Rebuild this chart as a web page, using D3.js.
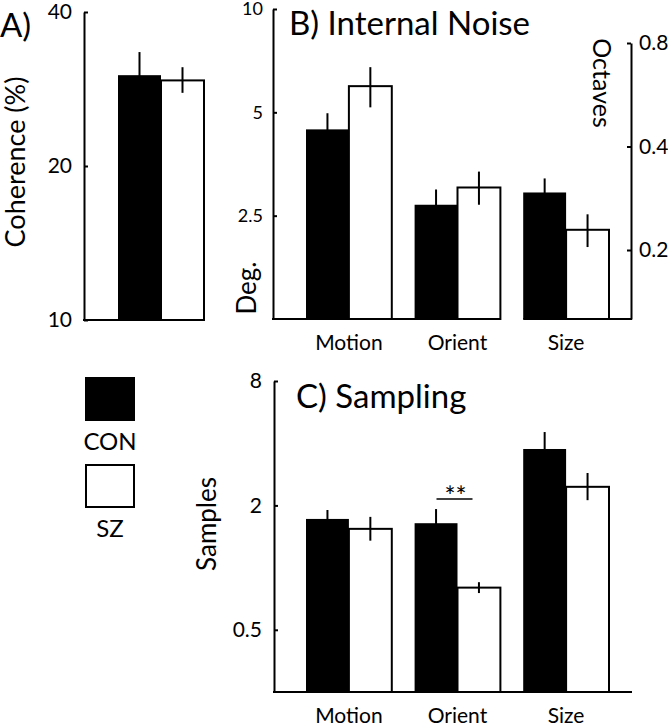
<!DOCTYPE html>
<html><head><meta charset="utf-8">
<script src="https://cdn.jsdelivr.net/npm/d3@7"></script>
<style>
body{margin:0;background:#fff}
text{font-family:Lato,"Open Sans",sans-serif;fill:#000}
</style>
</head><body><svg id="c" width="668" height="725"></svg>
<script>
// ---------------- data ----------------
const groups = ["CON", "SZ"];

const coherenceCategories = ["All"];
const coherenceCON = [30.1], coherenceCONLo = [27.0], coherenceCONHi = [33.4];
const coherenceSZ = [29.4], coherenceSZLo = [27.8], coherenceSZHi = [31.2];
const coherenceTicks = [10, 20, 40];

const noiseCategories = ["Motion", "Orient", "Size"];
const noiseUnits = ["Deg.", "Deg.", "Octaves"];
const noiseCON = [4.46, 2.69, 0.294], noiseCONLo = [4.0, 2.43, 0.268], noiseCONHi = [4.97, 2.98, 0.323];
const noiseSZ = [5.96, 3.02, 0.229], noiseSZLo = [5.17, 2.69, 0.204], noiseSZHi = [6.77, 3.36, 0.254];
const degTicks = [2.5, 5, 10];
const octTicks = [0.2, 0.4, 0.8];

const samplingCategories = ["Motion", "Orient", "Size"];
const samplingCON = [1.72, 1.64, 3.75], samplingCONLo = [1.56, 1.40, 3.10], samplingCONHi = [1.90, 1.92, 4.53];
const samplingSZ = [1.54, 0.80, 2.46], samplingSZLo = [1.35, 0.753, 2.12], samplingSZHi = [1.76, 0.85, 2.87];
const samplingTicks = [0.5, 2, 8];
const significanceCategory = ["Orient"], significanceLabel = ["**"];

// ---------------- drawing ----------------
const svg = d3.select("#c");
const fmt = d3.format("~g");
const SW = 2;
const FONT = 'Lato,"Open Sans",sans-serif';

function styleAxis(g, fs) {
  g.select(".domain").attr("stroke-width", SW);
  g.selectAll(".tick line").attr("stroke-width", SW);
  g.selectAll(".tick text").style("font-size", fs + "px").style("font-family", FONT);
}
function leftAxis(x, y, ticks, fs, pad) {
  const g = svg.append("g").attr("transform", `translate(${x},0)`)
    .call(d3.axisLeft(y).tickValues(ticks).tickFormat(fmt).tickSize(-4).tickPadding(pad).tickSizeOuter(0));
  styleAxis(g, fs);
  return g;
}
function rightAxis(x, y, ticks, fs, pad) {
  const g = svg.append("g").attr("transform", `translate(${x},0)`)
    .call(d3.axisRight(y).tickValues(ticks).tickFormat(fmt).tickSize(-4).tickPadding(pad).tickSizeOuter(0));
  styleAxis(g, fs);
  return g;
}

function drawBars(cats, xs, yFor, y0, con, conLo, conHi, sz, szLo, szHi) {
  const sub = d3.scaleBand().domain(groups).range([0, xs.bandwidth()]);
  const rows = [];
  cats.forEach((c, i) => {
    rows.push({c, i, g: "CON", v: con[i], lo: conLo[i], hi: conHi[i]});
    rows.push({c, i, g: "SZ", v: sz[i], lo: szLo[i], hi: szHi[i]});
  });
  const gg = svg.append("g");
  gg.selectAll("rect").data(rows).join("rect")
    .attr("x", d => xs(d.c) + sub(d.g))
    .attr("y", d => yFor(d.i)(d.v))
    .attr("width", sub.bandwidth())
    .attr("height", d => y0 - yFor(d.i)(d.v))
    .attr("fill", d => d.g === "CON" ? "#000" : "#fff")
    .attr("stroke", "#000")
    .attr("stroke-width", d => d.g === "CON" ? 0 : SW);
  gg.selectAll("line.err").data(rows).join("line").attr("class", "err")
    .attr("x1", d => xs(d.c) + sub(d.g) + sub.bandwidth() / 2)
    .attr("x2", d => xs(d.c) + sub(d.g) + sub.bandwidth() / 2)
    .attr("y1", d => yFor(d.i)(d.lo))
    .attr("y2", d => yFor(d.i)(d.hi))
    .attr("stroke", "#000").attr("stroke-width", SW);
  return sub;
}

function hline(x1, x2, y) {
  svg.append("line").attr("x1", x1).attr("x2", x2).attr("y1", y).attr("y2", y)
    .attr("stroke", "#000").attr("stroke-width", SW);
}
function label(txt, x, y, size, anchor, rot) {
  const t = svg.append("text").text(txt).style("font-size", size + "px")
    .attr("text-anchor", anchor || "start");
  if (rot) t.attr("transform", `translate(${x},${y}) rotate(${rot})`);
  else t.attr("x", x).attr("y", y);
  return t;
}

// ---- Panel A ----
const yA = d3.scaleLog().domain([10, 40]).range([320, 12]);
const xA = d3.scaleBand().domain(coherenceCategories).range([118, 204]);
drawBars(coherenceCategories, xA, () => yA, 320, coherenceCON, coherenceCONLo, coherenceCONHi, coherenceSZ, coherenceSZLo, coherenceSZHi);
leftAxis(84, yA, coherenceTicks, 21, 12);
hline(83, 205, 320);
label("A)", 0, 37, 33);
label("Coherence (%)", 25, 162, 27, "middle", -90);

// ---- Panel B ----
const yDeg = d3.scaleLog().domain([1.25, 10]).range([319, 9]);
const yOct = d3.scaleLog().domain([0.126, 0.8]).range([319, 43]);
const xB = d3.scaleBand().domain(noiseCategories).range([306, 609]).paddingInner(0.21);
drawBars(noiseCategories, xB, i => noiseUnits[i] === "Octaves" ? yOct : yDeg, 319, noiseCON, noiseCONLo, noiseCONHi, noiseSZ, noiseSZLo, noiseSZHi);
leftAxis(273, yDeg, degTicks, 18, 10);
rightAxis(631, yOct, octTicks, 21, 8);
// baseline: Deg. categories share one segment, Octaves category its own
hline(272, xB("Orient") + xB.bandwidth(), 319);
hline(xB("Size"), 632, 319);
noiseCategories.forEach(c => label(c, xB(c) + xB.bandwidth() / 2, 350, 21, "middle"));
label("B) Internal Noise", 289, 35, 33);
label("Deg.", 256, 288, 26, "middle", -90);
label("Octaves", 593, 83, 25, "middle", 90);

// ---- Panel C ----
const yS = d3.scaleLog().domain([0.25, 8]).range([692, 381]);
const xC = d3.scaleBand().domain(samplingCategories).range([306, 609]).paddingInner(0.21);
drawBars(samplingCategories, xC, () => yS, 692, samplingCON, samplingCONLo, samplingCONHi, samplingSZ, samplingSZLo, samplingSZHi);
leftAxis(274, yS, samplingTicks, 21, 12);
hline(273, 632, 692);
samplingCategories.forEach(c => label(c, xC(c) + xC.bandwidth() / 2, 723, 21, "middle"));
label("C) Sampling", 296, 408, 33);
label("Samples", 216, 524, 26, "middle", -90);
significanceCategory.forEach((c, k) => {
  const cx = xC(c) + xC.bandwidth() / 2;
  const i = samplingCategories.indexOf(c);
  const yTop = yS(Math.max(samplingCONHi[i], samplingSZHi[i])) - 10;
  svg.append("line").attr("x1", cx - 21).attr("x2", cx + 15).attr("y1", yTop).attr("y2", yTop)
    .attr("stroke", "#000").attr("stroke-width", 1.5);
  label(significanceLabel[k], cx - 2, yTop + 7, 26, "middle");
});

// ---- Legend ----
const legY = d3.scaleBand().domain(groups).range([378, 552]);
groups.forEach(g => {
  const y = legY(g);
  svg.append("rect").attr("x", 86).attr("y", y).attr("width", 48).attr("height", 42)
    .attr("fill", g === "CON" ? "#000" : "#fff").attr("stroke", "#000").attr("stroke-width", SW);
  label(g, 110, y + 72, 24, "middle");
});
</script>
</body></html>
